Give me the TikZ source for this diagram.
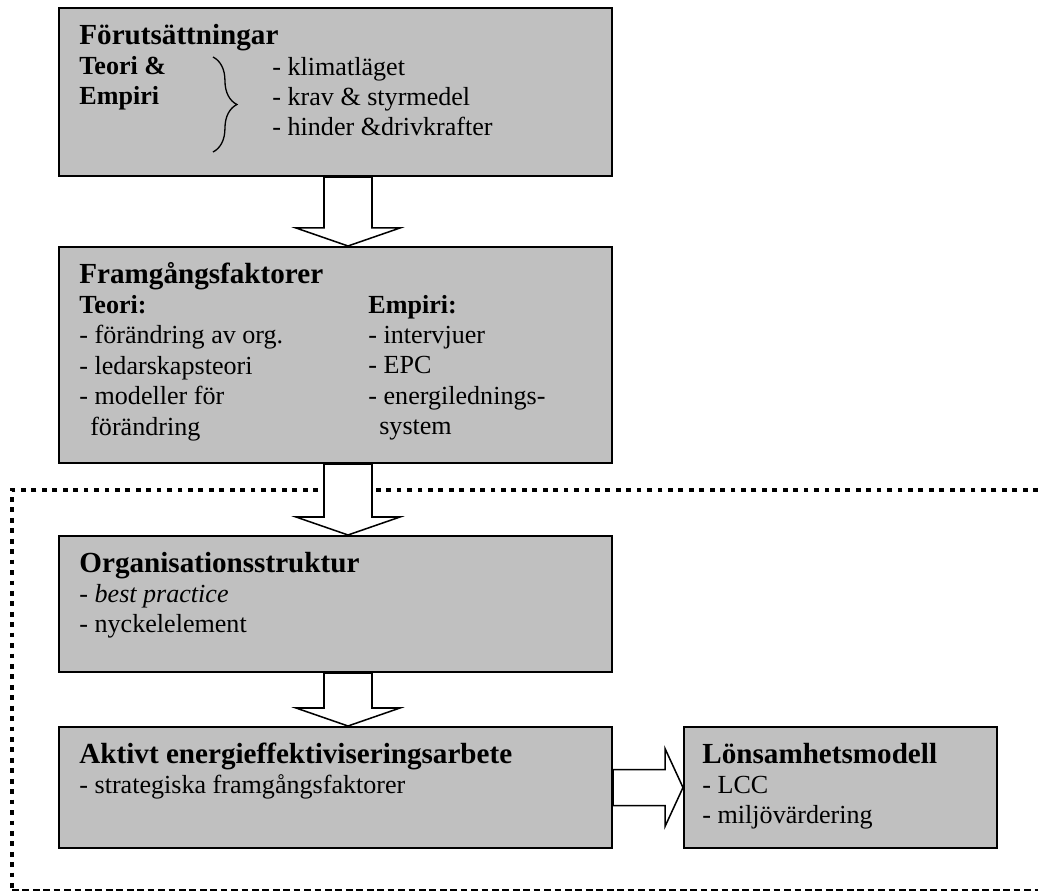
\documentclass[tikz,border=0pt]{standalone}
\usepackage{fontspec}
\setmainfont{Liberation Serif}
\usepackage{tikz}
\usetikzlibrary{calc,decorations.pathreplacing}
\definecolor{boxgray}{HTML}{C0C0C0}

\newcommand{\rader}[1]{\begin{tabular}[t]{@{}l@{}}#1\end{tabular}}
\newcommand{\rubrik}[1]{{\fontsize{13.4}{14}\selectfont\bfseries #1}}
\newcommand{\pilned}[2]{%
  \draw[pil] ($(#1.south)+(-11.5,0)$) -- ($(#2.north)+(-11.5,-18)$) -- ($(#2.north)+(-39.5,-18)$)
    -- ($(#2.north)+(12.5,0)$) -- ($(#2.north)+(64.5,-18)$) -- ($(#2.north)+(36.5,-18)$)
    -- ($(#1.south)+(36.5,0)$) -- cycle;}
\newcommand{\pilhoger}[2]{%
  \draw[pil] ($(#1.east)+(0,-18)$) -- ($(#2.west)+(-18,-18)$) -- ($(#2.west)+(-18,-39)$)
    -- (#2.west) -- ($(#2.west)+(-18,39)$) -- ($(#2.west)+(-18,18)$)
    -- ($(#1.east)+(0,18)$) -- cycle;}

\begin{document}
\begin{tikzpicture}[x=0.46pt,y=-0.46pt,
    pil/.style={draw=black,fill=white,line width=0.7pt,line join=miter},
    rad/.style={anchor=base west,inner sep=0pt,font=\fontsize{12}{14}\selectfont}]
		\useasboundingbox (0,0) rectangle (1038,895);

		\draw[line width=2.2pt,dash pattern=on 2.2pt off 2.6pt] (1038,490) -- (12,490) -- (12,890);
		\draw[line width=1.2pt,dash pattern=on 3.1pt off 1.7pt] (12,890) -- (1038,890);

		\begin{scope}[every node/.style={rectangle,draw=black,fill=boxgray,line width=0.9pt,
		              inner sep=0pt,minimum width=254.4pt}]
		    \node[minimum height=77.3pt] (forut) at (335.5,92) {};
		    \node[minimum height=99.4pt] (fram) at (335.5,355) {};
		    \node[minimum height=62.6pt] (org) at (335.5,604) {};
		    \node[minimum height=55.7pt] (aktiv) at (335.5,787.5) {};
		    \node[minimum height=55.7pt,minimum width=144pt] (lons) at (840.5,787.5) {};
		\end{scope}

		\node[rad] (forut-a) at (79,44) {\rader{\rubrik{Förutsättningar}\\\textbf{Teori \&}\\\textbf{Empiri}}};
		\node[rad] (forut-b) at (272,75) {\rader{- klimatläget\\- krav \& styrmedel\\- hinder \&drivkrafter}};
		\draw[decorate,decoration={brace,amplitude=11pt},line width=0.6pt] (213,57) -- (213,152);

		\node[rad] (fram-a) at (79,283) {\rader{\rubrik{Framgångsfaktorer}\\\textbf{Teori:}\\- förändring av org.\\- ledarskapsteori\\- modeller för\\\hspace*{5pt}förändring}};
		\node[rad] (fram-b) at (368,313) {\rader{\textbf{Empiri:}\\- intervjuer\\- EPC\\- energilednings-\\\hspace*{5pt}system}};

		\node[rad] (org-a) at (79,572) {\rader{\rubrik{Organisationsstruktur}\\- \textit{best practice}\\- nyckelelement}};
		\node[rad] (aktiv-a) at (79,763) {\rader{\rubrik{Aktivt energieffektiviseringsarbete}\\- strategiska framgångsfaktorer}};
		\node[rad] (lons-a) at (702,763) {\rader{\rubrik{Lönsamhetsmodell}\\- LCC\\- miljövärdering}};

		\pilned{forut}{fram}
		\pilned{fram}{org}
		\pilned{org}{aktiv}
		\pilhoger{aktiv}{lons}
\end{tikzpicture}
\end{document}
